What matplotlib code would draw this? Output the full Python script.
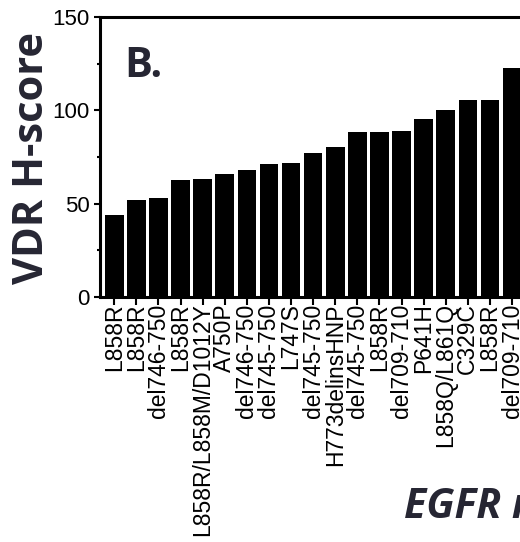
import matplotlib

matplotlib.use("Agg")
import matplotlib.pyplot as plt
from matplotlib.ticker import MultipleLocator

# visible part of the panel: one bar per patient sample
MUTATIONS = [
    "L858R", "L858R", "del746-750", "L858R", "L858R/L858M/D1012Y",
    "A750P", "del746-750", "del745-750", "L747S", "del745-750",
    "H773delinsHNP", "del745-750", "L858R", "del709-710", "P641H",
    "L858Q/L861Q", "C329C", "L858R", "del709-710",
]
H_SCORES = [
    44.0, 52.0, 53.2, 62.7, 63.0,
    65.7, 67.8, 71.1, 71.6, 77.3,
    80.5, 88.2, 88.2, 88.9, 95.2,
    100.2, 105.5, 105.5, 122.8,
]
Y_TICKS = [0, 50, 100, 150]

TITLE_FONT = "Open Sans"
TICK_FONT = "Liberation Sans"
TEXT_COLOR = "#262633"

W, H = 520, 542
fig = plt.figure(figsize=(W / 100, H / 100), dpi=100)

# axes run off the right edge, as in the cropped original
left_px, right_px, top_px, zero_px = 100, 540, 17, 297
ax = fig.add_axes([
    left_px / W,
    (H - zero_px) / H,
    (right_px - left_px) / W,
    (zero_px - top_px) / H,
])

pitch = 22.1
x_pos = list(range(len(H_SCORES)))
ax.bar(x_pos, H_SCORES, width=0.84, color="black", linewidth=0)

x0 = -0.645
ax.set_xlim(x0, x0 + (right_px - left_px) / pitch)
ax.set_ylim(0, 150)

ax.set_xticks(x_pos)
ax.set_xticklabels(MUTATIONS, rotation=90, fontfamily=TICK_FONT, fontsize=16.5)
ax.set_yticks(Y_TICKS)
ax.set_yticklabels([str(t) for t in Y_TICKS], fontfamily=TICK_FONT, fontsize=16)
ax.yaxis.set_minor_locator(MultipleLocator(25))

for side in ("left", "bottom", "top", "right"):
    ax.spines[side].set_linewidth(2.2)
ax.tick_params(axis="x", length=6, width=1.5, pad=-1.5, direction="out")
ax.tick_params(axis="y", which="major", length=4.5, width=1.5, pad=3)
ax.tick_params(axis="y", which="minor", length=2.5, width=1.5)

ax.set_ylabel("VDR H-score", fontfamily=TITLE_FONT, fontweight="bold",
              fontsize=30, color=TEXT_COLOR)
ax.yaxis.label.set_va("baseline")
ax.yaxis.set_label_coords(43 / W, (H - 158) / H, transform=fig.transFigure)

ax.set_xlabel("EGFR mutation", fontfamily=TITLE_FONT, fontweight="bold",
              fontstyle="italic", fontsize=29.5, color=TEXT_COLOR)
ax.xaxis.label.set_ha("left")
ax.xaxis.label.set_va("baseline")
ax.xaxis.set_label_coords(404 / W, (H - 518) / H, transform=fig.transFigure)

fig.text(124 / W, (H - 77) / H, "B.", fontfamily=TITLE_FONT, fontweight="bold",
         fontsize=30, color=TEXT_COLOR, va="baseline", ha="left")

fig.savefig("out.png", dpi=100)
